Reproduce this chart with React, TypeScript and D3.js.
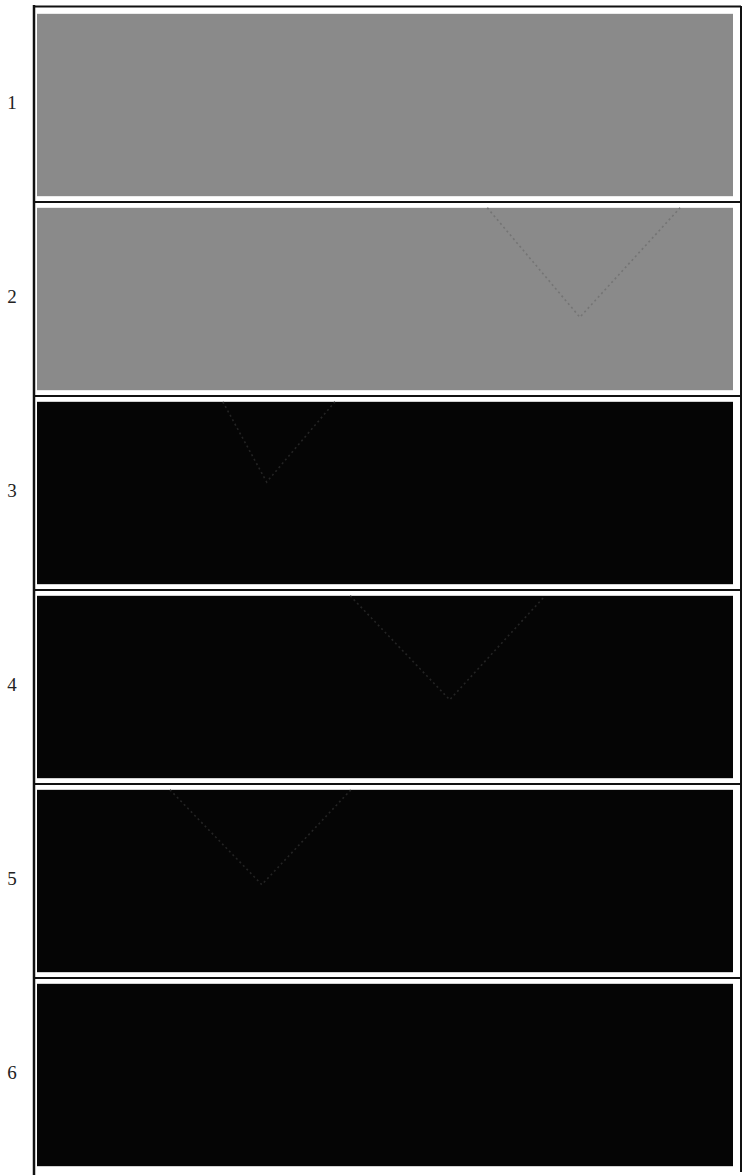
import React from "react";
import * as d3 from "d3";

const rowLabels = ["1", "2", "3", "4", "5", "6"];
const rowShade = ["gray", "gray", "black", "black", "black", "black"];
// V-shaped faint marks per row: start, vertex, end (fraction of row width), vertex depth (fraction of row height)
const vStart = [null, 0.647, 0.267, 0.45, 0.191, null];
const vVertex = [null, 0.78, 0.33, 0.593, 0.323, null];
const vEnd = [null, 0.924, 0.428, 0.73, 0.451, null];
const vDepth = [null, 0.6, 0.44, 0.57, 0.52, null];

const W = 748;
const H = 1175;

export default function App() {
  const y = d3.scaleBand<string>().domain(rowLabels).range([8, 1172]).paddingInner(0.06).paddingOuter(0.03);
  const x = d3.scaleLinear().domain([0, 1]).range([37, 733]);
  const fillColor = d3.scaleOrdinal<string, string>().domain(["gray", "black"]).range(["#8a8a8a", "#050505"]);
  const vColor = d3.scaleOrdinal<string, string>().domain(["gray", "black"]).range(["#747474", "#242424"]);
  const line = d3.line<[number, number]>().x((d) => d[0]).y((d) => d[1]);
  const step = y.step();
  const bw = y.bandwidth();

  return (
    <svg width={W} height={H} style={{ position: "absolute", left: 0, top: 0, background: "#fff" }}>
      <rect x={0} y={0} width={W} height={H} fill="#ffffff" />
      {rowLabels.map((r, i) => {
        const top = y(r)!;
        const yv = d3.scaleLinear().domain([0, 1]).range([top, top + bw]);
        const hasV = vStart[i] !== null;
        return (
          <g key={r}>
            <rect x={x(0)} y={top} width={x(1) - x(0)} height={bw} fill={fillColor(rowShade[i])} />
            {hasV && (
              <path
                d={line([
                  [x(vStart[i]!), yv(0)],
                  [x(vVertex[i]!), yv(vDepth[i]!)],
                  [x(vEnd[i]!), yv(0)],
                ])!}
                fill="none"
                stroke={vColor(rowShade[i])}
                strokeWidth={1.6}
                strokeDasharray="2 3"
              />
            )}
            <text
              x={12}
              y={top + bw / 2 - 3}
              dominantBaseline="central"
              textAnchor="middle"
              style={{ fontFamily: "'Liberation Serif', 'DejaVu Serif', serif" }}
              fontSize={19}
              fill="#222"
            >
              {r}
            </text>
            {i < rowLabels.length - 1 && (
              <line
                x1={35}
                x2={741}
                y1={top + bw + (step - bw) / 2}
                y2={top + bw + (step - bw) / 2}
                stroke="#111"
                strokeWidth={2}
              />
            )}
          </g>
        );
      })}
      <line x1={34} x2={34} y1={5} y2={1175} stroke="#111" strokeWidth={2.5} />
      <line x1={33} x2={741} y1={6.5} y2={6.5} stroke="#111" strokeWidth={2} />
      <line x1={741} x2={741} y1={6} y2={1172} stroke="#111" strokeWidth={2} />
    </svg>
  );
}
